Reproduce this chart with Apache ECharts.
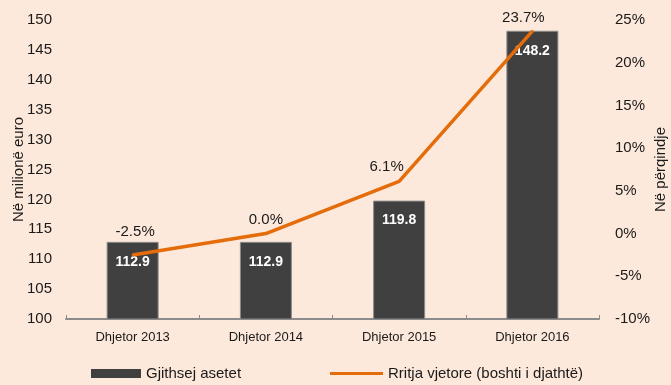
<!DOCTYPE html>
<html>
<head>
<meta charset="utf-8">
<script src="https://cdn.jsdelivr.net/npm/echarts@6/dist/echarts.min.js"></script>
<style>
  html, body { margin: 0; padding: 0; background: #fde9db; }
  #chart { width: 671px; height: 385px; }
</style>
</head>
<body>
<div id="chart"></div>
<script>
// Total assets (million euro) and annual growth (%, right axis)
const categories = ['Dhjetor 2013', 'Dhjetor 2014', 'Dhjetor 2015', 'Dhjetor 2016'];
const totalAssets = [112.9, 112.9, 119.8, 148.2];
const annualGrowth = [-2.5, 0.0, 6.1, 23.7];
const seriesNames = ['Gjithsej asetet', 'Rritja vjetore (boshti i djathtë)'];

// Nudges for the growth labels so they sit clear of the bars
const growthLabelOffsets = [[2.5, -15], [0, -5], [-12.5, -6], [-9, -4.5]];

const textColor = '#1a1a1a';
const fontFamily = 'Liberation Sans, Arial, sans-serif';
const lineColor = '#e46c0a';

const chart = echarts.init(document.getElementById('chart'), null, { renderer: 'canvas' });

chart.setOption({
  backgroundColor: '#fde9db',
  animation: false,
  textStyle: { fontFamily: fontFamily, color: textColor },
  grid: { left: 66, right: 72, top: 20, bottom: 66, containLabel: false, outerBoundsMode: 'none' },
  legend: [
    {
      data: [{ name: seriesNames[0], icon: 'rect' }],
      left: 91, top: 366, padding: 0,
      itemWidth: 50, itemHeight: 9, itemGap: 6,
      itemStyle: { borderWidth: 0 },
      textStyle: { fontSize: 15, color: textColor, fontFamily: fontFamily }
    },
    {
      data: [{ name: seriesNames[1], icon: 'rect' }],
      left: 330, top: 366, padding: 0,
      itemWidth: 53, itemHeight: 3, itemGap: 6,
      itemStyle: { borderWidth: 0, color: lineColor, opacity: 1 },
      textStyle: { fontSize: 15, color: textColor, fontFamily: fontFamily }
    }
  ],
  xAxis: {
    type: 'category',
    data: categories,
    boundaryGap: true,
    axisLine: { onZero: false, lineStyle: { color: '#8c8c8c', width: 2 } },
    axisTick: { show: true, inside: true, length: 4, lineStyle: { color: '#8c8c8c', width: 1 } },
    axisLabel: { fontSize: 13, color: textColor, margin: 12, fontFamily: fontFamily }
  },
  yAxis: [
    {
      type: 'value',
      min: 100, max: 150, interval: 5,
      name: 'Në milionë euro',
      nameLocation: 'middle',
      nameRotate: 90,
      nameGap: 40,
      nameMoveOverlap: false,
      nameTextStyle: { fontSize: 15, color: textColor, fontFamily: fontFamily },
      axisLine: { show: false },
      axisTick: { show: false },
      splitLine: { show: false },
      axisLabel: { fontSize: 15, color: textColor, margin: 14, fontFamily: fontFamily }
    },
    {
      type: 'value',
      min: -10, max: 25, interval: 5,
      position: 'right',
      name: 'Në përqindje',
      nameLocation: 'middle',
      nameRotate: 90,
      nameGap: 54,
      nameMoveOverlap: false,
      nameTextStyle: { fontSize: 15, color: textColor, fontFamily: fontFamily },
      axisLine: { show: false },
      axisTick: { show: false },
      splitLine: { show: false },
      axisLabel: {
        fontSize: 15, color: textColor, margin: 16, fontFamily: fontFamily,
        formatter: v => v + '%'
      }
    }
  ],
  series: [
    {
      name: seriesNames[0],
      type: 'bar',
      yAxisIndex: 0,
      data: totalAssets,
      barWidth: 52,
      itemStyle: { color: '#404040', borderColor: '#8a8a8a', borderWidth: 1 },
      label: {
        show: true,
        position: 'insideTop',
        distance: 13,
        color: '#ffffff',
        fontWeight: 'bold',
        fontSize: 14,
        fontFamily: fontFamily,
        formatter: p => p.value.toFixed(1)
      }
    },
    {
      name: seriesNames[1],
      type: 'line',
      yAxisIndex: 1,
      data: annualGrowth.map((v, i) => ({
        value: v,
        label: { offset: growthLabelOffsets[i] }
      })),
      symbol: 'circle',
      symbolSize: 2,
      showSymbol: true,
      lineStyle: { color: lineColor, width: 3.5 },
      itemStyle: { color: lineColor },
      label: {
        show: true,
        position: 'top',
        distance: 0,
        fontSize: 15,
        color: textColor,
        fontFamily: fontFamily,
        formatter: p => p.value.toFixed(1) + '%'
      }
    }
  ]
});
</script>
</body>
</html>
